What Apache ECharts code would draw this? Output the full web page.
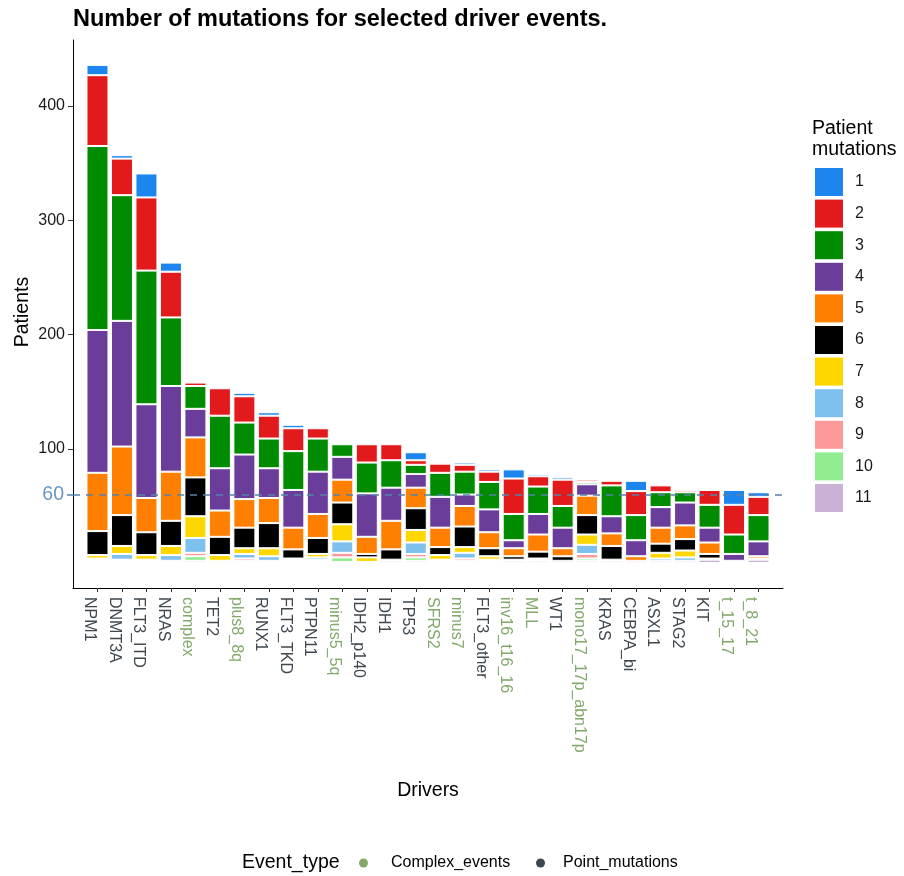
<!DOCTYPE html>
<html>
<head>
<meta charset="utf-8">
<script src="https://cdn.jsdelivr.net/npm/echarts@6/dist/echarts.min.js"></script>
<style>html,body{margin:0;padding:0;background:#fff}#c{width:904px;height:876px}</style>
</head>
<body>
<div id="c"></div>
<script>
const drivers = ['NPM1','DNMT3A','FLT3_ITD','NRAS','complex','TET2','plus8_8q','RUNX1','FLT3_TKD','PTPN11','minus5_5q','IDH2_p140','IDH1','TP53','SFRS2','minus7','FLT3_other','inv16_t16_16','MLL','WT1','mono17_17p_abn17p','KRAS','CEBPA_bi','ASXL1','STAG2','KIT','t_15_17','t_8_21'];
const complexEvents = ['complex','plus8_8q','minus5_5q','SFRS2','minus7','inv16_t16_16','MLL','mono17_17p_abn17p','t_15_17','t_8_21'];
// patients per driver, by number of mutations per patient
const m1  = [9,3,21,8,0,0,3,3,3,0,0,1,0,7,1,2,2,8,2,2,0,0,9,0,0,0,13,4];
const m2  = [62,32,64,40,3,24,23,20,20,9,0,16,14,4,8,6,9,31,9,23,2,4,21,6,2,13,26,16];
const m3  = [161,110,117,60,20,46,28,26,34,29,11,27,24,8,21,20,24,23,24,19,2,27,22,13,9,20,17,23];
const m4  = [125,110,82,75,25,37,39,26,33,37,20,38,29,12,27,10,20,7,18,18,10,15,14,18,20,13,6,13];
const m5  = [51,60,30,43,35,23,25,22,19,21,20,15,25,18,17,18,14,7,15,7,17,11,4,14,12,10,1,2];
const m6  = [21,27,20,22,34,16,18,22,8,14,19,3,9,19,7,18,7,3,6,4,17,12,0,8,10,4,0,1];
const m7  = [3,7,4,8,19,5,5,7,1,3,15,4,1,11,4,5,3,1,1,0,9,1,0,5,6,1,0,0];
const m8  = [1,5,1,5,13,1,4,4,1,2,10,0,0,10,1,5,1,0,0,0,8,0,0,2,3,0,0,0];
const m9  = [1,1,1,0,3,1,2,1,1,1,4,0,0,3,1,2,1,0,0,0,4,0,0,0,0,0,0,0];
const m10 = [1,1,0,1,4,0,1,0,0,1,4,0,0,3,1,1,0,0,1,0,2,0,0,0,0,0,0,0];
const m11 = [1,1,1,1,2,0,1,1,1,1,1,1,2,2,0,1,1,2,2,2,2,2,2,2,2,3,1,3];
const seriesNames = ['1','2','3','4','5','6','7','8','9','10','11'];
const seriesValues = [m1,m2,m3,m4,m5,m6,m7,m8,m9,m10,m11];
const colors = ['#1C86EE','#E31A1C','#008B00','#6A3D9A','#FF7F00','#000000','#FFD700','#7EC0EE','#FB9A99','#90EE90','#CAB2D6'];
const yTicks = [100,200,300,400];
const thresholdValue = 60;

const FONT = '"Liberation Sans", Arial, Helvetica, sans-serif';
const GREEN = '#82A96A', GREY = '#3F474F', BLUE_LINE = '#5683AB', BLUE_TXT = '#6A98C0';

const cats = [' '].concat(drivers, ['  ']);
const pad = arr => ['-'].concat(arr.map(v => v === 0 ? '-' : v), ['-']);

const series = [];
for (let i = seriesNames.length - 1; i >= 0; i--) {
  const s = {
    name: seriesNames[i], type: 'bar', stack: 'all', barWidth: 22,
    data: pad(seriesValues[i]),
    itemStyle: { color: colors[i], borderColor: '#fff', borderWidth: 1 },
    emphasis: { disabled: true }
  };
  if (i === 0) {
    s.markLine = {
      silent: true, symbol: 'none', animation: false,
      label: { show: false },
      lineStyle: { color: BLUE_LINE, type: [7, 6], width: 1.5 },
      data: [{ yAxis: thresholdValue }]
    };
  }
  series.push(s);
}

const chart = echarts.init(document.getElementById('c'), null, { renderer: 'canvas' });
chart.setOption({
  animation: false,
  textStyle: { fontFamily: FONT },
  grid: { left: 73, right: 121, top: 40, bottom: 288, containLabel: false },
  xAxis: {
    type: 'category', data: cats, boundaryGap: false,
    axisLine: { onZero: false, lineStyle: { color: '#000', width: 1 } },
    axisTick: { length: 4, lineStyle: { color: '#333' }, interval: (i) => i > 0 && i < cats.length - 1 },
    axisLabel: {
      rotate: -90, margin: 9, interval: 0, fontFamily: FONT, verticalAlign: 'top',
      formatter: v => v.trim() === '' ? '' : (complexEvents.includes(v) ? '{c|' + v + '}' : '{p|' + v + '}'),
      rich: {
        c: { color: GREEN, fontSize: 16, fontFamily: FONT },
        p: { color: GREY, fontSize: 16, fontFamily: FONT }
      }
    },
    splitLine: { show: false }
  },
  yAxis: [{
    type: 'value', min: -21.8, max: 457.8,
    axisLine: { show: true, lineStyle: { color: '#000', width: 1 } },
    axisTick: { show: true, length: 5, customValues: yTicks, lineStyle: { color: '#333' } },
    axisLabel: { customValues: yTicks, fontSize: 16, color: '#1a1a1a', margin: 8, fontFamily: FONT },
    splitLine: { show: false }
  }, {
    type: 'value', min: -21.8, max: 457.8, position: 'left',
    axisLine: { show: false },
    axisTick: { show: true, length: 6, customValues: [thresholdValue], lineStyle: { color: BLUE_LINE, width: 1.5 } },
    axisLabel: { customValues: [thresholdValue], fontSize: 19.5, color: BLUE_TXT, margin: 9, fontFamily: FONT },
    splitLine: { show: false }
  }],
  legend: {
    orient: 'vertical', left: 815, top: 168, padding: 0,
    data: seriesNames, icon: 'rect',
    itemWidth: 28, itemHeight: 28, itemGap: 3.6,
    itemStyle: { borderWidth: 0 },
    selectedMode: false,
    textStyle: { fontSize: 16, color: '#1a1a1a', fontFamily: FONT, padding: [0, 0, 0, 7] }
  },
  graphic: [
    { type: 'text', x: 73, y: 20, style: { text: 'Number of mutations for selected driver events.', font: 'bold 23.5px ' + FONT, fill: '#000', align: 'left', verticalAlign: 'middle' } },
    { type: 'text', x: 23, y: 312, rotation: Math.PI / 2, style: { text: 'Patients', font: '19.5px ' + FONT, fill: '#000', align: 'center', verticalAlign: 'middle' } },
    { type: 'text', x: 428, y: 791, style: { text: 'Drivers', font: '19.5px ' + FONT, fill: '#000', align: 'center', verticalAlign: 'middle' } },
    { type: 'text', x: 812, y: 118, style: { text: 'Patient\nmutations', font: '19.5px ' + FONT, lineHeight: 21, fill: '#000', align: 'left', verticalAlign: 'top' } },
    { type: 'text', x: 242, y: 863, style: { text: 'Event_type', font: '19.5px ' + FONT, fill: '#000', align: 'left', verticalAlign: 'middle' } },
    { type: 'circle', shape: { cx: 363.5, cy: 863, r: 4.5 }, style: { fill: GREEN } },
    { type: 'text', x: 391, y: 863, style: { text: 'Complex_events', font: '16px ' + FONT, fill: '#000', align: 'left', verticalAlign: 'middle' } },
    { type: 'circle', shape: { cx: 540.5, cy: 863, r: 4.5 }, style: { fill: GREY } },
    { type: 'text', x: 563, y: 863, style: { text: 'Point_mutations', font: '16px ' + FONT, fill: '#000', align: 'left', verticalAlign: 'middle' } }
  ],
  series: series
});
</script>
</body>
</html>
